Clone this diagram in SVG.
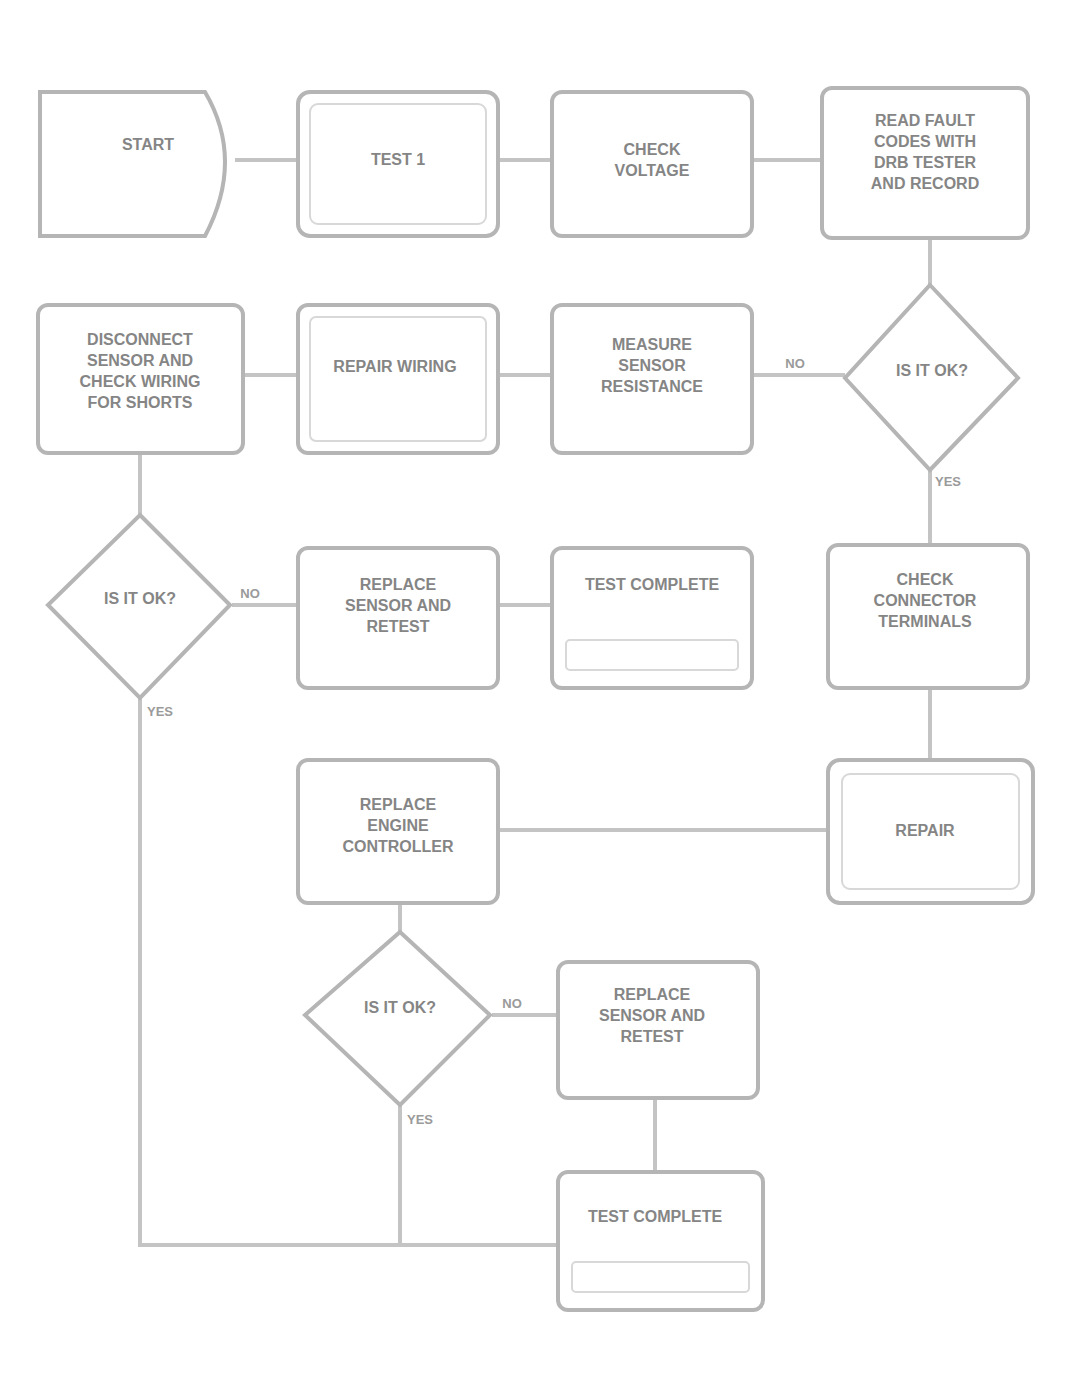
<svg xmlns="http://www.w3.org/2000/svg" width="1070" height="1386" viewBox="0 0 1070 1386">
<style>
.box{fill:#fff;stroke:#b5b5b5;stroke-width:4}
.inner{fill:none;stroke:#d8d8d8;stroke-width:2}
.con{fill:none;stroke:#c4c4c4;stroke-width:4}
.t{font-family:"Liberation Sans",Arial,sans-serif;font-size:16px;font-weight:bold;fill:#858585;text-anchor:middle}
.s{font-family:"Liberation Sans",Arial,sans-serif;font-size:13px;font-weight:bold;fill:#9a9a9a;text-anchor:middle}
</style>
<rect width="1070" height="1386" fill="#fff"/>
<g id="connectors">
<line class="con" x1="235" y1="160" x2="298" y2="160"/>
<line class="con" x1="498" y1="160" x2="552" y2="160"/>
<line class="con" x1="753" y1="160" x2="822" y2="160"/>
<line class="con" x1="930" y1="238" x2="930" y2="285"/>
<line class="con" x1="243" y1="375" x2="298" y2="375"/>
<line class="con" x1="498" y1="375" x2="552" y2="375"/>
<line class="con" x1="753" y1="375" x2="845" y2="375"/>
<line class="con" x1="930" y1="470" x2="930" y2="545"/>
<line class="con" x1="140" y1="453" x2="140" y2="515"/>
<line class="con" x1="232" y1="605" x2="298" y2="605"/>
<line class="con" x1="498" y1="605" x2="552" y2="605"/>
<line class="con" x1="930" y1="688" x2="930" y2="760"/>
<line class="con" x1="498" y1="830" x2="828" y2="830"/>
<line class="con" x1="400" y1="903" x2="400" y2="932"/>
<line class="con" x1="492" y1="1015" x2="558" y2="1015"/>
<line class="con" x1="655" y1="1098" x2="655" y2="1172"/>
<polyline class="con" points="140,698 140,1245 558,1245"/>
<line class="con" x1="400" y1="1105" x2="400" y2="1245"/>
</g>
<g id="n1"><path class="box" d="M40,92 H205 Q245,160 205,236 H40 Z"/><text class="t" x="148" y="150">START</text></g>
<g id="n2"><rect class="box" x="298" y="92" width="200" height="144" rx="12"/><rect class="inner" x="310" y="104" width="176" height="120" rx="8"/><text class="t" x="398" y="165">TEST 1</text></g>
<g id="n3"><rect class="box" x="552" y="92" width="200" height="144" rx="10"/><text class="t" x="652" y="155">CHECK</text><text class="t" x="652" y="176">VOLTAGE</text></g>
<g id="n4"><rect class="box" x="822" y="88" width="206" height="150" rx="10"/><text class="t" x="925" y="126">READ FAULT</text><text class="t" x="925" y="147">CODES WITH</text><text class="t" x="925" y="168">DRB TESTER</text><text class="t" x="925" y="189">AND RECORD</text></g>
<g id="n5"><rect class="box" x="38" y="305" width="205" height="148" rx="10"/><text class="t" x="140" y="345">DISCONNECT</text><text class="t" x="140" y="366">SENSOR AND</text><text class="t" x="140" y="387">CHECK WIRING</text><text class="t" x="140" y="408">FOR SHORTS</text></g>
<g id="n6"><rect class="box" x="298" y="305" width="200" height="148" rx="10"/><rect class="inner" x="310" y="317" width="176" height="124" rx="6"/><text class="t" x="395" y="372">REPAIR WIRING</text></g>
<g id="n7"><rect class="box" x="552" y="305" width="200" height="148" rx="10"/><text class="t" x="652" y="350">MEASURE</text><text class="t" x="652" y="371">SENSOR</text><text class="t" x="652" y="392">RESISTANCE</text></g>
<g id="n8"><polygon class="box" points="930,285 1018,378 930,470 845,378"/><text class="t" x="932" y="376">IS IT OK?</text></g>
<g id="n9"><polygon class="box" points="140,515 230,605 140,698 48,605"/><text class="t" x="140" y="604">IS IT OK?</text></g>
<g id="n10"><rect class="box" x="298" y="548" width="200" height="140" rx="10"/><text class="t" x="398" y="590">REPLACE</text><text class="t" x="398" y="611">SENSOR AND</text><text class="t" x="398" y="632">RETEST</text></g>
<g id="n11"><rect class="box" x="552" y="548" width="200" height="140" rx="10"/><rect class="inner" x="566" y="640" width="172" height="30" rx="4"/><text class="t" x="652" y="590">TEST COMPLETE</text></g>
<g id="n12"><rect class="box" x="828" y="545" width="200" height="143" rx="10"/><text class="t" x="925" y="585">CHECK</text><text class="t" x="925" y="606">CONNECTOR</text><text class="t" x="925" y="627">TERMINALS</text></g>
<g id="n13"><rect class="box" x="298" y="760" width="200" height="143" rx="10"/><text class="t" x="398" y="810">REPLACE</text><text class="t" x="398" y="831">ENGINE</text><text class="t" x="398" y="852">CONTROLLER</text></g>
<g id="n14"><rect class="box" x="828" y="760" width="205" height="143" rx="12"/><rect class="inner" x="842" y="774" width="177" height="115" rx="8"/><text class="t" x="925" y="836">REPAIR</text></g>
<g id="n15"><polygon class="box" points="400,932 490,1015 400,1105 305,1015"/><text class="t" x="400" y="1013">IS IT OK?</text></g>
<g id="n16"><rect class="box" x="558" y="962" width="200" height="136" rx="10"/><text class="t" x="652" y="1000">REPLACE</text><text class="t" x="652" y="1021">SENSOR AND</text><text class="t" x="652" y="1042">RETEST</text></g>
<g id="n17"><rect class="box" x="558" y="1172" width="205" height="138" rx="10"/><rect class="inner" x="572" y="1262" width="177" height="30" rx="4"/><text class="t" x="655" y="1222">TEST COMPLETE</text></g>
<g id="labels">
<text class="s" x="795" y="368">NO</text>
<text class="s" x="948" y="486">YES</text>
<text class="s" x="250" y="598">NO</text>
<text class="s" x="160" y="716">YES</text>
<text class="s" x="512" y="1008">NO</text>
<text class="s" x="420" y="1124">YES</text>
</g>
</svg>
